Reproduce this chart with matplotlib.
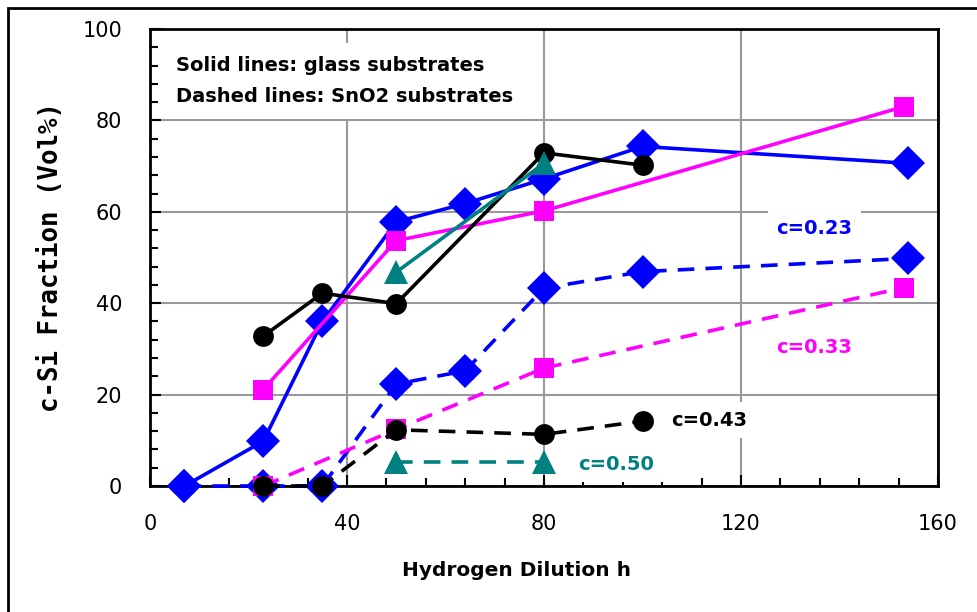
import matplotlib.pyplot as plt
import matplotlib.ticker as ticker
from matplotlib.patches import Rectangle

plt.rcParams['lines.scale_dashes'] = False

# glass substrates (solid lines)
h_blue_g = [7, 23, 35, 50, 64, 80, 100, 154]
f_blue_g = [0, 9.8, 36, 57.8, 61.8, 67.2, 74.3, 70.6]
h_mag_g = [23, 50, 80, 153]
f_mag_g = [21.1, 53.7, 60.2, 83]
h_blk_g = [23, 35, 50, 80, 100]
f_blk_g = [32.8, 42.2, 39.9, 72.9, 70.2]
h_teal_g = [50, 80]
f_teal_g = [46.8, 70.6]

# SnO2 substrates (dashed lines)
h_blue_s = [7, 23, 35, 50, 64, 80, 100, 154]
f_blue_s = [0, 0, 0, 22.3, 25.2, 43.3, 46.9, 49.8]
h_mag_s = [23, 50, 80, 153]
f_mag_s = [0, 12.4, 25.8, 43.4]
h_blk_s = [23, 35, 50, 80, 100]
f_blk_s = [0, 0, 12.3, 11.3, 14.2]
h_teal_s = [50, 80]
f_teal_s = [5.2, 5.2]

blue = '#0000ff'
mag = '#ff00ff'
blk = '#000000'
teal = '#008080'

fig = plt.figure(figsize=(9.77, 6.12), dpi=100)
ax = fig.add_axes([150 / 977, 1 - 486 / 612, 788 / 977, 457 / 612])

# outer frame
fig.patches.append(Rectangle((8 / 977, -0.2), 1.5, 1.2 - 8 / 612,
                             transform=fig.transFigure, fill=False,
                             lw=2, edgecolor='black'))

lw = 2.6
series = [
    (h_blue_g, f_blue_g, blue, 'D', 17, '-'),
    (h_mag_g, f_mag_g, mag, 's', 15, '-'),
    (h_blk_g, f_blk_g, blk, 'o', 15, '-'),
    (h_teal_g, f_teal_g, teal, '^', 17, '-'),
    (h_blue_s, f_blue_s, blue, 'D', 17, '--'),
    (h_mag_s, f_mag_s, mag, 's', 15, '--'),
    (h_blk_s, f_blk_s, blk, 'o', 15, '--'),
    (h_teal_s, f_teal_s, teal, '^', 17, '--'),
]
for i, (x, y, c, m, ms, ls) in enumerate(series):
    line, = ax.plot(x, y, color=c, marker=m, markersize=ms, lw=lw,
                    markeredgewidth=0, clip_on=False, zorder=3 + i * 0.1)
    if ls == '--':
        line.set_dashes((12, 8))

ax.set_xlim(0, 160)
ax.set_ylim(0, 100)
ax.xaxis.set_major_locator(ticker.MultipleLocator(40))
ax.xaxis.set_minor_locator(ticker.MultipleLocator(8))
ax.yaxis.set_major_locator(ticker.MultipleLocator(20))
ax.yaxis.set_minor_locator(ticker.MultipleLocator(4))
ax.grid(which='major', color='#999999', lw=1.5, zorder=0)
ax.set_axisbelow(True)

ax.tick_params(which='both', direction='in', top=False, right=False,
               labelsize=15, width=1.5)
ax.tick_params(which='major', length=8, pad=20)
ax.tick_params(which='minor', length=6)
for s in ax.spines.values():
    s.set_linewidth(2)

ax.set_xlabel('Hydrogen Dilution h', fontsize=14.5, fontweight='bold')
ax.xaxis.set_label_coords(366 / 788, -75 / 457)
ax.set_ylabel('c-Si Fraction (Vol%)', fontsize=18.5, fontweight='bold',
              family='DejaVu Sans Mono')
ax.yaxis.set_label_coords(-86 / 788, 0.5)

ax.text(5.3, 94, 'Solid lines: glass substrates\nDashed lines: SnO2 substrates',
        fontsize=14, fontweight='bold', va='top',
        linespacing=1.75, zorder=2,
        bbox=dict(facecolor='white', edgecolor='none', pad=10))

lab = dict(fontsize=14, fontweight='bold', zorder=2, va='center',
           bbox=dict(facecolor='white', edgecolor='none', pad=6))
ax.text(127.2, 56.3, 'c=0.23', color=blue, **lab)
ax.text(127.2, 30.3, 'c=0.33', color=mag, **lab)
ax.text(105.9, 14.4, 'c=0.43', color=blk, **lab)
ax.text(87, 4.8, 'c=0.50', color=teal, **lab)

fig.savefig('out.png', dpi=100)
